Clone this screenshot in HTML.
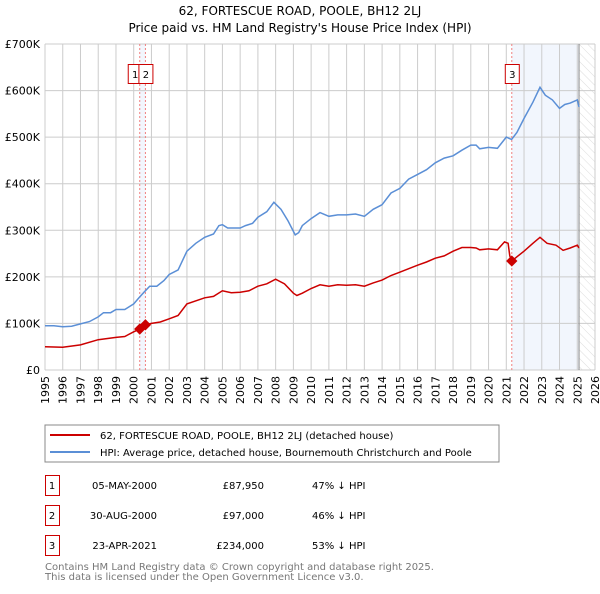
<!DOCTYPE html>
<html><head><meta charset="utf-8"><style>
body{margin:0;background:#fff;font-family:"DejaVu Sans","Liberation Sans",sans-serif;}
svg text{font-family:"DejaVu Sans","Liberation Sans",sans-serif;}
</style></head><body>
<svg id="c" width="600" height="590" xmlns="http://www.w3.org/2000/svg">
<defs><pattern id="hatch" width="6" height="6" patternUnits="userSpaceOnUse" patternTransform="rotate(-45)"><line x1="0" y1="0" x2="0" y2="6" stroke="#ddd" stroke-width="1"/></pattern></defs>
<text x="300" y="15" text-anchor="middle" font-size="12">62, FORTESCUE ROAD, POOLE, BH12 2LJ</text>
<text x="300" y="32" text-anchor="middle" font-size="12">Price paid vs. HM Land Registry's House Price Index (HPI)</text>
<g id="plot"></g>
<rect x="45" y="425" width="454" height="37" fill="#fff" stroke="#888"/>
<line x1="50" y1="435" x2="90" y2="435" stroke="#cc0000" stroke-width="2"/>
<text x="100" y="439" font-size="10">62, FORTESCUE ROAD, POOLE, BH12 2LJ (detached house)</text>
<line x1="50" y1="452" x2="90" y2="452" stroke="#5b8fd6" stroke-width="2"/>
<text x="100" y="456" font-size="10">HPI: Average price, detached house, Bournemouth Christchurch and Poole</text>
<g font-size="10">
<rect x="45.5" y="475.5" width="14" height="20" fill="none" stroke="#cc0000"/><text x="52" y="489" text-anchor="middle">1</text>
<text x="157" y="489" text-anchor="end">05-MAY-2000</text><text x="264" y="489" text-anchor="end">£87,950</text><text x="312" y="489">47% ↓ HPI</text>
<rect x="45.5" y="505.5" width="14" height="20" fill="none" stroke="#cc0000"/><text x="52" y="519" text-anchor="middle">2</text>
<text x="157" y="519" text-anchor="end">30-AUG-2000</text><text x="264" y="519" text-anchor="end">£97,000</text><text x="312" y="519">46% ↓ HPI</text>
<rect x="45.5" y="535.5" width="14" height="20" fill="none" stroke="#cc0000"/><text x="52" y="549" text-anchor="middle">3</text>
<text x="157" y="549" text-anchor="end">23-APR-2021</text><text x="264" y="549" text-anchor="end">£234,000</text><text x="312" y="549">53% ↓ HPI</text>
</g>
<text x="45" y="570" font-size="10" fill="#777">Contains HM Land Registry data © Crown copyright and database right 2025.</text>
<text x="45" y="580" font-size="10" fill="#777">This data is licensed under the Open Government Licence v3.0.</text>
</svg>
<script>
const yearTicks=[1995,1996,1997,1998,1999,2000,2001,2002,2003,2004,2005,2006,2007,2008,2009,2010,2011,2012,2013,2014,2015,2016,2017,2018,2019,2020,2021,2022,2023,2024,2025,2026];
const valueTicks=[0,100,200,300,400,500,600,700];
const valueLabels=["£0","£100K","£200K","£300K","£400K","£500K","£600K","£700K"];
const hpiYears=[1995,1995.5,1996,1996.5,1997,1997.5,1998,1998.3,1998.7,1999,1999.5,2000,2000.3,2000.6,2000.9,2001.3,2001.7,2002,2002.5,2003,2003.5,2004,2004.5,2004.8,2005,2005.3,2005.8,2006,2006.3,2006.7,2007,2007.5,2007.9,2008.3,2008.7,2009.1,2009.3,2009.5,2010,2010.5,2011,2011.5,2012,2012.5,2013,2013.5,2014,2014.5,2015,2015.5,2016,2016.5,2017,2017.5,2018,2018.5,2019,2019.3,2019.5,2020,2020.5,2021,2021.3,2021.6,2022,2022.5,2022.9,2023.2,2023.6,2024,2024.3,2024.6,2025,2025.1];
const hpiValues=[95,95,93,94,99,104,114,123,123,130,130,142,155,168,180,180,192,205,215,255,272,285,292,310,312,305,305,305,310,315,328,340,360,345,320,290,295,310,325,338,330,333,333,335,330,345,355,380,390,410,420,430,445,455,460,472,483,483,475,478,476,500,495,510,540,575,607,590,580,562,570,573,580,565];
const ppYears=[1995,1996,1997,1998,1999,1999.5,2000,2000.35,2000.66,2001,2001.5,2002,2002.5,2003,2004,2004.5,2005,2005.5,2006,2006.5,2007,2007.5,2008,2008.5,2009,2009.2,2009.5,2010,2010.5,2011,2011.5,2012,2012.5,2013,2013.5,2014,2014.5,2015,2016,2016.5,2017,2017.5,2018,2018.5,2019,2019.3,2019.5,2020,2020.5,2020.9,2021.1,2021.2,2021.31,2021.6,2022,2022.5,2022.9,2023.3,2023.8,2024.2,2024.6,2025,2025.1];
const ppValues=[50,49,54,65,70,72,82,88,97,100,103,110,117,142,155,158,170,166,167,170,180,185,195,185,165,160,165,175,183,180,183,182,183,180,187,193,203,210,225,232,240,245,255,263,263,262,258,260,258,275,272,245,234,243,255,272,285,272,268,257,262,268,262];
const saleYears=[2000.34,2000.66,2021.31];
const saleValues=[87.95,97,234];
const saleLabels=["1","2","3"];
const dataEnd=2025.1;
const X0=45,X1=595,Y0=370,Y1=44;
const xs=y=>X0+(y-1995)/(2026-1995)*(X1-X0);
const ys=v=>Y0-v/700*(Y0-Y1);
const NS="http://www.w3.org/2000/svg";
const g=document.getElementById('plot');
function mk(t,a){const e=document.createElementNS(NS,t);for(const k in a)e.setAttribute(k,a[k]);g.appendChild(e);return e;}
let e;
e=mk('rect',{x:xs(saleYears[0]),y:Y1,width:xs(saleYears[1])-xs(saleYears[0]),height:Y0-Y1,fill:'#f2f6fd'});


e=mk('rect',{x:xs(saleYears[2]),y:Y1,width:xs(dataEnd)-xs(saleYears[2]),height:Y0-Y1,fill:'#f2f6fd'});


e=mk('rect',{x:xs(dataEnd),y:Y1,width:X1-xs(dataEnd),height:Y0-Y1,fill:'url(#hatch)'});


yearTicks.forEach(yr=>{
 e=mk('line',{x1:xs(yr),x2:xs(yr),y1:Y1,y2:Y0,stroke:'#ccc'});
 
 
 e=mk('text',{x:0,y:0,'font-size':11,'text-anchor':'middle',transform:`translate(${xs(yr)+4},${Y0+20}) rotate(-90)`});
 e.textContent=yr;
 
 
});
valueTicks.forEach((v,i)=>{
 e=mk('line',{x1:X0,x2:X1,y1:ys(v),y2:ys(v),stroke:'#ccc'});
 
 
 e=mk('text',{x:X0-5,y:ys(v)+4,'font-size':11,'text-anchor':'end'});
 e.textContent=valueLabels[i];
 
 
});
e=mk('line',{x1:xs(dataEnd),x2:xs(dataEnd),y1:Y1,y2:Y0,stroke:'#888'});


saleYears.forEach((yr,i)=>{
 e=mk('line',{x1:xs(yr),x2:xs(yr),y1:Y1,y2:Y0,stroke:'#f08080','stroke-dasharray':'2,2'});
 
 
});
const path=(xa,va)=>xa.map((x,i)=>(i?'L':'M')+xs(x).toFixed(1)+','+ys(va[i]).toFixed(1)).join('');
e=mk('path',{d:path(hpiYears,hpiValues),fill:'none',stroke:'#5b8fd6','stroke-width':1.5});


e=mk('path',{d:path(ppYears,ppValues),fill:'none',stroke:'#cc0000','stroke-width':1.5});


saleYears.forEach((yr,i)=>{
 e=mk('rect',{x:xs(yr)-4,y:ys(saleValues[i])-4,width:8,height:8,fill:'#cc0000',transform:`rotate(45 ${xs(yr)} ${ys(saleValues[i])})`});
 
 
});
const boxX=[xs(saleYears[0])-7,xs(saleYears[1])-7,xs(saleYears[2])-7];
saleLabels.forEach((l,i)=>{
 const bx=i==0?boxX[0]-5:boxX[i];
 e=mk('rect',{x:bx+0.5,y:64.5,width:14,height:19,fill:'#fff',stroke:'#cc0000'});
 
 
 e=mk('text',{x:bx+7.5,y:78,'font-size':10,'text-anchor':'middle'});
 e.textContent=l;
 
 
});
</script>
</body></html>
